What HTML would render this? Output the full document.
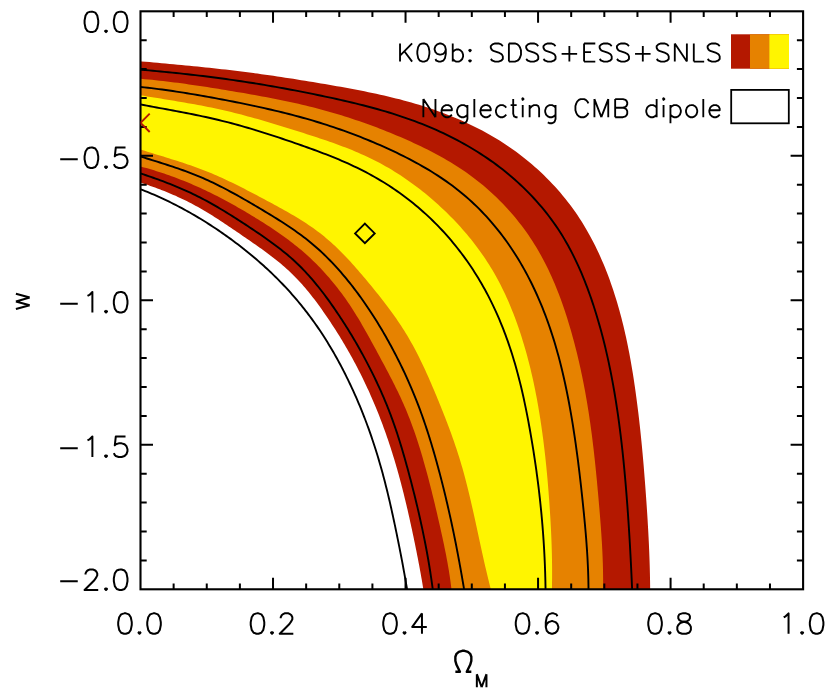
<!DOCTYPE html>
<html><head><meta charset="utf-8"><title>w vs Omega_M</title>
<style>html,body{margin:0;padding:0;background:#fff;font-family:"Liberation Sans",sans-serif;}svg{display:block}</style></head><body>
<svg width="830" height="692" viewBox="0 0 830 692">
<rect width="830" height="692" fill="#fff"/>
<defs><clipPath id="pc"><rect x="140.50" y="11.30" width="662.60" height="578.00"/></clipPath></defs>
<g clip-path="url(#pc)">
<path d="M133.55 60.74 L137.55 61.08 L141.55 61.42 L145.56 61.77 L149.56 62.11 L153.56 62.46 L157.57 62.81 L161.57 63.17 L165.57 63.53 L169.57 63.89 L173.58 64.26 L177.58 64.63 L181.58 65.01 L185.58 65.39 L189.58 65.78 L193.58 66.17 L197.58 66.57 L201.58 66.98 L205.58 67.40 L209.58 67.82 L213.57 68.25 L217.56 68.69 L221.56 69.14 L225.55 69.60 L229.54 70.07 L233.53 70.55 L237.52 71.03 L241.50 71.53 L245.48 72.04 L249.47 72.55 L253.45 73.08 L257.43 73.62 L261.41 74.17 L265.38 74.72 L269.36 75.29 L273.33 75.86 L277.30 76.45 L281.28 77.04 L285.25 77.64 L289.22 78.25 L293.19 78.87 L297.15 79.49 L301.12 80.13 L305.09 80.77 L309.05 81.42 L313.02 82.07 L316.98 82.74 L320.94 83.41 L324.91 84.09 L328.87 84.77 L332.83 85.46 L336.79 86.16 L340.75 86.87 L344.71 87.59 L348.67 88.31 L352.62 89.05 L356.57 89.81 L360.52 90.57 L364.47 91.36 L368.41 92.16 L372.35 92.98 L376.28 93.82 L380.20 94.69 L384.12 95.57 L388.04 96.48 L391.94 97.42 L395.84 98.38 L399.73 99.37 L403.62 100.39 L407.49 101.45 L411.36 102.53 L415.22 103.65 L419.06 104.81 L422.90 106.00 L426.73 107.23 L430.54 108.49 L434.34 109.80 L438.13 111.15 L441.91 112.54 L445.66 113.96 L449.41 115.43 L453.13 116.95 L456.84 118.50 L460.53 120.10 L464.20 121.74 L467.85 123.42 L471.47 125.15 L475.07 126.92 L478.65 128.74 L482.21 130.60 L485.73 132.51 L489.24 134.46 L492.71 136.47 L496.15 138.52 L499.57 140.61 L502.95 142.76 L506.31 144.95 L509.63 147.20 L512.91 149.49 L516.17 151.84 L519.38 154.23 L522.57 156.67 L525.71 159.16 L528.82 161.70 L531.88 164.28 L534.91 166.92 L537.90 169.59 L540.84 172.31 L543.75 175.08 L546.61 177.89 L549.42 180.75 L552.20 183.65 L554.92 186.59 L557.60 189.57 L560.23 192.59 L562.81 195.65 L565.35 198.76 L567.83 201.90 L570.26 205.09 L572.64 208.31 L574.97 211.57 L577.24 214.86 L579.46 218.20 L581.63 221.57 L583.74 224.97 L585.80 228.41 L587.80 231.88 L589.76 235.38 L591.66 238.91 L593.52 242.47 L595.32 246.05 L597.08 249.67 L598.79 253.30 L600.45 256.97 L602.07 260.65 L603.64 264.36 L605.17 268.08 L606.65 271.83 L608.10 275.59 L609.50 279.37 L610.85 283.16 L612.17 286.97 L613.45 290.80 L614.69 294.63 L615.90 298.48 L617.06 302.33 L618.19 306.19 L619.29 310.06 L620.35 313.94 L621.38 317.82 L622.37 321.72 L623.33 325.62 L624.26 329.52 L625.16 333.43 L626.04 337.35 L626.88 341.27 L627.70 345.20 L628.49 349.14 L629.25 353.07 L629.99 357.02 L630.71 360.97 L631.40 364.92 L632.08 368.88 L632.73 372.84 L633.36 376.81 L633.97 380.77 L634.56 384.75 L635.14 388.72 L635.70 392.70 L636.24 396.68 L636.77 400.66 L637.29 404.65 L637.79 408.63 L638.28 412.62 L638.75 416.61 L639.21 420.61 L639.66 424.60 L640.10 428.60 L640.52 432.59 L640.94 436.59 L641.34 440.59 L641.74 444.59 L642.12 448.60 L642.49 452.60 L642.85 456.60 L643.21 460.61 L643.56 464.61 L643.89 468.62 L644.22 472.63 L644.54 476.63 L644.86 480.64 L645.17 484.65 L645.47 488.65 L645.76 492.66 L646.05 496.67 L646.34 500.67 L646.61 504.68 L646.88 508.69 L647.15 512.69 L647.40 516.70 L647.65 520.71 L647.88 524.72 L648.11 528.72 L648.33 532.73 L648.54 536.74 L648.74 540.75 L648.93 544.77 L649.10 548.78 L649.27 552.79 L649.42 556.81 L649.56 560.82 L649.69 564.84 L649.80 568.86 L649.90 572.88 L649.99 576.90 L650.06 580.93 L650.11 584.95 L650.15 588.98 L650.18 593.01 L650.19 597.04 L424.55 596.95 L424.18 594.50 L423.79 592.06 L423.40 589.61 L423.00 587.17 L422.60 584.74 L422.19 582.30 L421.77 579.87 L421.35 577.43 L420.92 575.01 L420.48 572.58 L420.04 570.15 L419.60 567.73 L419.15 565.31 L418.69 562.89 L418.23 560.47 L417.76 558.05 L417.29 555.63 L416.82 553.22 L416.34 550.80 L415.85 548.39 L415.36 545.98 L414.87 543.57 L414.37 541.16 L413.87 538.75 L413.36 536.34 L412.85 533.93 L412.34 531.52 L411.82 529.11 L411.30 526.70 L410.78 524.30 L410.25 521.89 L409.72 519.48 L409.18 517.08 L408.64 514.67 L408.09 512.27 L407.54 509.87 L406.98 507.47 L406.42 505.07 L405.85 502.67 L405.28 500.27 L404.69 497.88 L404.11 495.48 L403.51 493.09 L402.91 490.70 L402.30 488.31 L401.69 485.92 L401.07 483.54 L400.44 481.16 L399.80 478.78 L399.15 476.40 L398.50 474.03 L397.84 471.66 L397.17 469.29 L396.49 466.92 L395.80 464.56 L395.10 462.20 L394.39 459.84 L393.68 457.48 L392.95 455.13 L392.22 452.78 L391.48 450.44 L390.72 448.09 L389.96 445.75 L389.19 443.41 L388.41 441.08 L387.62 438.75 L386.81 436.42 L386.00 434.10 L385.18 431.77 L384.35 429.46 L383.50 427.14 L382.65 424.83 L381.79 422.52 L380.91 420.22 L380.02 417.92 L379.13 415.62 L378.22 413.33 L377.30 411.04 L376.37 408.75 L375.43 406.47 L374.48 404.19 L373.51 401.92 L372.54 399.65 L371.56 397.39 L370.56 395.13 L369.55 392.87 L368.54 390.62 L367.51 388.38 L366.47 386.14 L365.42 383.91 L364.36 381.68 L363.29 379.46 L362.21 377.25 L361.11 375.04 L360.01 372.83 L358.89 370.64 L357.77 368.45 L356.63 366.26 L355.48 364.09 L354.32 361.92 L353.15 359.75 L351.97 357.60 L350.78 355.44 L349.58 353.30 L348.37 351.16 L347.14 349.03 L345.91 346.90 L344.66 344.78 L343.41 342.67 L342.14 340.56 L340.87 338.46 L339.58 336.36 L338.28 334.27 L336.97 332.19 L335.65 330.11 L334.32 328.03 L332.98 325.96 L331.63 323.90 L330.27 321.84 L328.90 319.79 L327.52 317.74 L326.13 315.70 L324.72 313.66 L323.31 311.63 L321.88 309.60 L320.44 307.59 L318.99 305.58 L317.53 303.58 L316.05 301.60 L314.56 299.62 L313.05 297.66 L311.52 295.71 L309.99 293.77 L308.43 291.85 L306.86 289.95 L305.27 288.06 L303.66 286.19 L302.03 284.33 L300.39 282.50 L298.73 280.69 L297.04 278.90 L295.34 277.13 L293.61 275.38 L291.86 273.65 L290.09 271.95 L288.30 270.28 L286.49 268.63 L284.66 267.00 L282.80 265.39 L280.93 263.81 L279.04 262.24 L277.14 260.69 L275.22 259.16 L273.28 257.65 L271.33 256.15 L269.37 254.66 L267.39 253.19 L265.41 251.73 L263.42 250.28 L261.41 248.84 L259.40 247.41 L257.39 245.99 L255.36 244.57 L253.33 243.16 L251.30 241.75 L249.27 240.35 L247.23 238.95 L245.19 237.55 L243.15 236.14 L241.12 234.74 L239.08 233.34 L237.04 231.95 L235.00 230.55 L232.96 229.16 L230.92 227.77 L228.87 226.38 L226.82 225.01 L224.77 223.63 L222.72 222.27 L220.66 220.92 L218.59 219.57 L216.52 218.24 L214.44 216.91 L212.36 215.60 L210.27 214.30 L208.18 213.02 L206.08 211.75 L203.96 210.49 L201.84 209.25 L199.71 208.03 L197.58 206.83 L195.43 205.64 L193.27 204.48 L191.10 203.34 L188.92 202.21 L186.73 201.11 L184.53 200.02 L182.32 198.96 L180.10 197.91 L177.87 196.88 L175.63 195.87 L173.38 194.88 L171.13 193.90 L168.86 192.95 L166.58 192.01 L164.29 191.09 L161.99 190.19 L159.69 189.30 L157.37 188.43 L155.05 187.58 L152.71 186.74 L150.37 185.93 L148.02 185.12 L145.66 184.33 L143.29 183.56 L140.91 182.81 L138.52 182.07 L136.12 181.34 L133.72 180.63 Z" fill="#b41800"/>
<path d="M133.40 78.23 L137.14 78.51 L140.87 78.82 L144.59 79.14 L148.31 79.49 L152.02 79.85 L155.73 80.24 L159.43 80.64 L163.12 81.05 L166.81 81.49 L170.50 81.93 L174.18 82.40 L177.86 82.87 L181.53 83.36 L185.20 83.87 L188.87 84.38 L192.54 84.91 L196.20 85.45 L199.86 85.99 L203.52 86.55 L207.18 87.12 L210.84 87.69 L214.50 88.27 L218.15 88.86 L221.81 89.45 L225.47 90.05 L229.12 90.66 L232.78 91.27 L236.44 91.88 L240.10 92.50 L243.76 93.12 L247.42 93.76 L251.08 94.40 L254.73 95.05 L258.39 95.71 L262.04 96.38 L265.69 97.06 L269.34 97.75 L272.99 98.46 L276.63 99.18 L280.28 99.91 L283.91 100.66 L287.55 101.43 L291.18 102.21 L294.80 103.01 L298.42 103.83 L302.04 104.67 L305.65 105.52 L309.25 106.40 L312.85 107.30 L316.44 108.22 L320.02 109.17 L323.60 110.14 L327.17 111.13 L330.74 112.14 L334.30 113.18 L337.85 114.24 L341.39 115.32 L344.93 116.43 L348.46 117.55 L351.98 118.70 L355.49 119.88 L359.00 121.07 L362.50 122.29 L366.00 123.52 L369.48 124.78 L372.96 126.07 L376.43 127.37 L379.90 128.70 L383.35 130.04 L386.80 131.41 L390.24 132.80 L393.67 134.21 L397.10 135.65 L400.51 137.10 L403.92 138.58 L407.32 140.08 L410.71 141.60 L414.08 143.14 L417.45 144.72 L420.80 146.32 L424.14 147.94 L427.46 149.60 L430.76 151.29 L434.05 153.00 L437.31 154.75 L440.56 156.53 L443.79 158.35 L446.99 160.20 L450.18 162.09 L453.34 164.02 L456.47 165.98 L459.58 167.99 L462.66 170.04 L465.71 172.12 L468.73 174.25 L471.73 176.43 L474.69 178.65 L477.62 180.91 L480.51 183.22 L483.38 185.58 L486.20 187.98 L489.00 190.43 L491.75 192.92 L494.47 195.45 L497.16 198.02 L499.80 200.63 L502.40 203.29 L504.97 205.98 L507.50 208.71 L509.98 211.48 L512.42 214.28 L514.82 217.12 L517.18 220.00 L519.49 222.90 L521.76 225.85 L523.98 228.82 L526.16 231.83 L528.29 234.86 L530.37 237.93 L532.40 241.03 L534.39 244.15 L536.32 247.30 L538.21 250.48 L540.05 253.68 L541.84 256.91 L543.58 260.16 L545.28 263.44 L546.93 266.74 L548.55 270.06 L550.12 273.40 L551.65 276.76 L553.14 280.14 L554.59 283.54 L556.00 286.96 L557.38 290.39 L558.72 293.84 L560.03 297.30 L561.31 300.78 L562.55 304.27 L563.76 307.77 L564.95 311.28 L566.10 314.81 L567.23 318.34 L568.33 321.88 L569.40 325.44 L570.45 328.99 L571.48 332.56 L572.48 336.13 L573.46 339.71 L574.41 343.30 L575.35 346.89 L576.26 350.48 L577.15 354.09 L578.01 357.69 L578.86 361.31 L579.69 364.92 L580.49 368.55 L581.27 372.17 L582.04 375.81 L582.78 379.44 L583.50 383.08 L584.21 386.73 L584.89 390.37 L585.56 394.02 L586.21 397.68 L586.84 401.34 L587.45 405.00 L588.05 408.66 L588.63 412.32 L589.19 415.99 L589.73 419.66 L590.26 423.33 L590.77 427.00 L591.27 430.68 L591.76 434.35 L592.23 438.03 L592.69 441.71 L593.13 445.39 L593.57 449.07 L593.99 452.75 L594.40 456.44 L594.80 460.12 L595.19 463.81 L595.58 467.50 L595.95 471.19 L596.32 474.88 L596.67 478.57 L597.03 482.26 L597.37 485.95 L597.71 489.64 L598.04 493.33 L598.37 497.02 L598.70 500.72 L599.02 504.41 L599.34 508.10 L599.65 511.80 L599.95 515.49 L600.25 519.18 L600.54 522.88 L600.82 526.57 L601.08 530.27 L601.34 533.97 L601.58 537.67 L601.81 541.37 L602.03 545.07 L602.22 548.77 L602.41 552.47 L602.57 556.17 L602.71 559.88 L602.84 563.59 L602.94 567.30 L603.02 571.01 L603.08 574.72 L603.12 578.44 L603.13 582.15 L603.11 585.87 L603.07 589.60 L603.00 593.32 L602.90 597.05 L452.24 597.08 L451.99 594.43 L451.72 591.79 L451.43 589.16 L451.12 586.53 L450.79 583.90 L450.45 581.28 L450.08 578.67 L449.70 576.06 L449.30 573.46 L448.88 570.86 L448.46 568.26 L448.01 565.67 L447.55 563.09 L447.08 560.50 L446.60 557.92 L446.11 555.34 L445.61 552.77 L445.09 550.20 L444.57 547.63 L444.04 545.06 L443.50 542.49 L442.95 539.93 L442.39 537.37 L441.83 534.80 L441.27 532.24 L440.70 529.68 L440.13 527.12 L439.55 524.56 L438.97 522.00 L438.39 519.44 L437.80 516.89 L437.21 514.33 L436.62 511.77 L436.02 509.21 L435.41 506.66 L434.80 504.10 L434.19 501.55 L433.57 498.99 L432.95 496.44 L432.32 493.89 L431.68 491.34 L431.04 488.79 L430.39 486.25 L429.74 483.70 L429.08 481.16 L428.41 478.62 L427.74 476.08 L427.06 473.54 L426.37 471.01 L425.68 468.48 L424.97 465.94 L424.26 463.42 L423.55 460.89 L422.82 458.37 L422.08 455.85 L421.33 453.33 L420.58 450.82 L419.81 448.31 L419.03 445.80 L418.24 443.30 L417.43 440.81 L416.62 438.32 L415.79 435.83 L414.94 433.35 L414.08 430.87 L413.21 428.40 L412.32 425.93 L411.41 423.47 L410.49 421.02 L409.55 418.57 L408.59 416.13 L407.62 413.70 L406.63 411.27 L405.61 408.86 L404.58 406.44 L403.53 404.04 L402.46 401.64 L401.37 399.25 L400.27 396.87 L399.15 394.49 L398.02 392.12 L396.87 389.75 L395.71 387.39 L394.54 385.04 L393.36 382.69 L392.17 380.34 L390.96 378.00 L389.75 375.66 L388.53 373.32 L387.31 370.99 L386.08 368.66 L384.84 366.34 L383.60 364.01 L382.35 361.69 L381.11 359.38 L379.86 357.06 L378.61 354.74 L377.36 352.43 L376.11 350.11 L374.85 347.80 L373.60 345.49 L372.35 343.19 L371.09 340.88 L369.82 338.58 L368.55 336.29 L367.28 334.00 L366.00 331.71 L364.71 329.43 L363.41 327.15 L362.09 324.89 L360.77 322.62 L359.44 320.37 L358.09 318.12 L356.73 315.89 L355.36 313.66 L353.97 311.44 L352.56 309.23 L351.13 307.03 L349.69 304.85 L348.22 302.67 L346.74 300.51 L345.23 298.36 L343.71 296.22 L342.16 294.09 L340.59 291.98 L338.99 289.88 L337.38 287.80 L335.75 285.73 L334.09 283.68 L332.42 281.65 L330.73 279.63 L329.01 277.62 L327.28 275.64 L325.52 273.67 L323.75 271.72 L321.95 269.79 L320.14 267.87 L318.31 265.98 L316.46 264.10 L314.59 262.25 L312.70 260.42 L310.80 258.61 L308.87 256.81 L306.93 255.05 L304.97 253.30 L303.00 251.58 L301.00 249.87 L298.99 248.19 L296.96 246.53 L294.92 244.89 L292.86 243.27 L290.79 241.67 L288.71 240.09 L286.61 238.53 L284.49 236.98 L282.37 235.45 L280.23 233.93 L278.08 232.43 L275.92 230.95 L273.75 229.47 L271.57 228.02 L269.38 226.57 L267.18 225.14 L264.97 223.72 L262.75 222.30 L260.52 220.90 L258.29 219.51 L256.05 218.13 L253.81 216.76 L251.56 215.39 L249.30 214.03 L247.04 212.69 L244.77 211.35 L242.50 210.02 L240.22 208.70 L237.93 207.39 L235.64 206.09 L233.34 204.80 L231.04 203.52 L228.73 202.26 L226.42 201.01 L224.10 199.76 L221.77 198.54 L219.44 197.32 L217.10 196.12 L214.76 194.93 L212.41 193.75 L210.05 192.59 L207.69 191.45 L205.32 190.32 L202.95 189.20 L200.57 188.10 L198.19 187.02 L195.80 185.95 L193.40 184.90 L191.00 183.87 L188.59 182.85 L186.17 181.85 L183.75 180.86 L181.32 179.90 L178.89 178.94 L176.44 178.01 L173.99 177.09 L171.53 176.19 L169.06 175.30 L166.59 174.44 L164.11 173.59 L161.61 172.75 L159.11 171.93 L156.60 171.13 L154.08 170.35 L151.56 169.59 L149.02 168.84 L146.47 168.11 L143.91 167.39 L141.35 166.70 L138.77 166.02 L136.18 165.36 L133.58 164.71 Z" fill="#e68200"/>
<path d="M133.60 94.15 L136.99 94.72 L140.39 95.29 L143.78 95.85 L147.18 96.40 L150.57 96.95 L153.97 97.50 L157.36 98.05 L160.75 98.60 L164.14 99.15 L167.53 99.71 L170.91 100.26 L174.30 100.82 L177.68 101.39 L181.06 101.97 L184.44 102.55 L187.81 103.14 L191.18 103.74 L194.55 104.35 L197.91 104.97 L201.28 105.61 L204.63 106.26 L207.99 106.93 L211.33 107.61 L214.68 108.31 L218.02 109.03 L221.35 109.77 L224.68 110.53 L228.01 111.31 L231.33 112.11 L234.64 112.93 L237.95 113.77 L241.26 114.62 L244.56 115.49 L247.86 116.38 L251.16 117.28 L254.45 118.19 L257.74 119.12 L261.03 120.06 L264.31 121.02 L267.60 121.98 L270.88 122.95 L274.15 123.94 L277.43 124.93 L280.70 125.93 L283.97 126.94 L287.25 127.96 L290.52 128.98 L293.78 130.01 L297.05 131.04 L300.32 132.07 L303.59 133.11 L306.86 134.15 L310.12 135.20 L313.38 136.26 L316.64 137.32 L319.90 138.40 L323.14 139.49 L326.39 140.59 L329.62 141.71 L332.85 142.85 L336.08 144.00 L339.29 145.18 L342.49 146.38 L345.68 147.60 L348.86 148.85 L352.03 150.12 L355.18 151.43 L358.33 152.76 L361.45 154.13 L364.56 155.53 L367.66 156.97 L370.74 158.44 L373.80 159.95 L376.84 161.50 L379.86 163.10 L382.86 164.73 L385.85 166.40 L388.81 168.12 L391.75 169.87 L394.67 171.66 L397.57 173.48 L400.45 175.34 L403.31 177.24 L406.15 179.17 L408.96 181.14 L411.75 183.14 L414.52 185.17 L417.26 187.24 L419.99 189.33 L422.69 191.46 L425.36 193.62 L428.01 195.80 L430.64 198.02 L433.24 200.26 L435.81 202.53 L438.37 204.82 L440.89 207.14 L443.39 209.49 L445.86 211.86 L448.31 214.26 L450.73 216.68 L453.12 219.12 L455.49 221.59 L457.82 224.08 L460.12 226.60 L462.40 229.15 L464.64 231.72 L466.86 234.31 L469.04 236.93 L471.19 239.57 L473.30 242.24 L475.39 244.94 L477.44 247.66 L479.45 250.40 L481.43 253.17 L483.38 255.97 L485.29 258.79 L487.16 261.64 L489.00 264.51 L490.80 267.41 L492.56 270.34 L494.28 273.29 L495.96 276.26 L497.61 279.26 L499.22 282.29 L500.79 285.33 L502.32 288.40 L503.82 291.49 L505.29 294.60 L506.72 297.72 L508.11 300.87 L509.48 304.03 L510.80 307.21 L512.10 310.40 L513.37 313.60 L514.60 316.82 L515.81 320.05 L516.98 323.29 L518.13 326.54 L519.24 329.80 L520.33 333.07 L521.39 336.34 L522.42 339.63 L523.43 342.91 L524.41 346.20 L525.37 349.50 L526.30 352.80 L527.20 356.10 L528.08 359.40 L528.94 362.71 L529.78 366.02 L530.59 369.33 L531.38 372.65 L532.15 375.97 L532.89 379.30 L533.62 382.62 L534.33 385.96 L535.01 389.29 L535.68 392.63 L536.33 395.98 L536.96 399.32 L537.57 402.68 L538.16 406.03 L538.74 409.39 L539.30 412.76 L539.85 416.13 L540.38 419.50 L540.89 422.88 L541.39 426.26 L541.87 429.65 L542.35 433.04 L542.80 436.43 L543.25 439.83 L543.68 443.23 L544.10 446.64 L544.50 450.04 L544.90 453.45 L545.28 456.87 L545.65 460.28 L546.00 463.70 L546.35 467.11 L546.68 470.53 L547.01 473.95 L547.32 477.37 L547.63 480.79 L547.92 484.21 L548.20 487.63 L548.48 491.05 L548.74 494.47 L549.00 497.89 L549.25 501.30 L549.49 504.71 L549.72 508.13 L549.94 511.53 L550.16 514.94 L550.36 518.35 L550.56 521.75 L550.74 525.16 L550.92 528.56 L551.09 531.96 L551.24 535.37 L551.39 538.77 L551.52 542.18 L551.64 545.59 L551.74 549.00 L551.84 552.41 L551.92 555.83 L551.99 559.25 L552.04 562.67 L552.08 566.10 L552.10 569.53 L552.11 572.97 L552.10 576.41 L552.07 579.86 L552.03 583.31 L551.97 586.77 L551.89 590.24 L551.80 593.71 L551.69 597.19 L492.78 596.80 L492.04 594.06 L491.32 591.32 L490.61 588.58 L489.91 585.84 L489.23 583.09 L488.55 580.35 L487.88 577.61 L487.22 574.86 L486.57 572.12 L485.93 569.37 L485.30 566.63 L484.67 563.88 L484.05 561.14 L483.44 558.39 L482.83 555.64 L482.22 552.90 L481.62 550.15 L481.02 547.40 L480.43 544.65 L479.83 541.90 L479.24 539.15 L478.65 536.40 L478.06 533.65 L477.46 530.90 L476.87 528.15 L476.27 525.40 L475.68 522.65 L475.07 519.90 L474.47 517.14 L473.86 514.39 L473.25 511.64 L472.63 508.89 L472.00 506.14 L471.37 503.39 L470.74 500.64 L470.09 497.89 L469.44 495.15 L468.77 492.41 L468.10 489.67 L467.42 486.93 L466.73 484.20 L466.02 481.47 L465.31 478.74 L464.58 476.02 L463.84 473.30 L463.09 470.58 L462.32 467.87 L461.54 465.17 L460.75 462.47 L459.93 459.77 L459.11 457.08 L458.26 454.40 L457.40 451.72 L456.53 449.05 L455.64 446.38 L454.73 443.71 L453.82 441.05 L452.89 438.40 L451.94 435.75 L450.99 433.10 L450.02 430.46 L449.04 427.82 L448.05 425.18 L447.05 422.55 L446.04 419.92 L445.02 417.29 L443.99 414.66 L442.95 412.04 L441.90 409.42 L440.85 406.80 L439.79 404.18 L438.72 401.56 L437.65 398.95 L436.56 396.33 L435.48 393.72 L434.38 391.11 L433.28 388.50 L432.18 385.89 L431.06 383.29 L429.93 380.69 L428.79 378.10 L427.65 375.51 L426.48 372.93 L425.31 370.35 L424.12 367.78 L422.92 365.22 L421.71 362.67 L420.47 360.13 L419.22 357.60 L417.96 355.07 L416.67 352.56 L415.37 350.06 L414.04 347.58 L412.70 345.10 L411.33 342.64 L409.94 340.20 L408.53 337.77 L407.09 335.35 L405.63 332.95 L404.15 330.57 L402.64 328.20 L401.11 325.85 L399.56 323.51 L397.99 321.18 L396.40 318.87 L394.79 316.56 L393.17 314.27 L391.52 312.00 L389.86 309.73 L388.19 307.47 L386.50 305.22 L384.79 302.99 L383.08 300.76 L381.35 298.54 L379.61 296.33 L377.85 294.12 L376.09 291.92 L374.32 289.73 L372.54 287.55 L370.76 285.37 L368.96 283.19 L367.16 281.02 L365.36 278.85 L363.54 276.70 L361.72 274.54 L359.89 272.40 L358.05 270.27 L356.20 268.14 L354.34 266.03 L352.46 263.93 L350.57 261.85 L348.67 259.78 L346.75 257.73 L344.81 255.70 L342.86 253.69 L340.88 251.69 L338.89 249.72 L336.88 247.77 L334.85 245.84 L332.79 243.94 L330.71 242.06 L328.61 240.21 L326.48 238.39 L324.33 236.60 L322.14 234.84 L319.94 233.11 L317.70 231.41 L315.44 229.75 L313.16 228.10 L310.85 226.49 L308.52 224.90 L306.17 223.34 L303.80 221.80 L301.41 220.28 L299.01 218.78 L296.60 217.31 L294.16 215.85 L291.72 214.41 L289.27 212.98 L286.80 211.57 L284.33 210.17 L281.85 208.79 L279.36 207.42 L276.87 206.05 L274.37 204.70 L271.88 203.35 L269.38 202.01 L266.88 200.67 L264.38 199.34 L261.89 198.01 L259.40 196.69 L256.91 195.37 L254.42 194.05 L251.93 192.75 L249.44 191.45 L246.94 190.15 L244.45 188.87 L241.95 187.59 L239.45 186.33 L236.94 185.08 L234.43 183.84 L231.92 182.61 L229.39 181.40 L226.86 180.20 L224.33 179.01 L221.78 177.85 L219.23 176.70 L216.67 175.56 L214.09 174.45 L211.51 173.35 L208.91 172.28 L206.30 171.22 L203.68 170.19 L201.05 169.18 L198.40 168.19 L195.75 167.22 L193.08 166.27 L190.41 165.33 L187.73 164.41 L185.04 163.51 L182.35 162.61 L179.65 161.73 L176.96 160.86 L174.25 160.00 L171.55 159.15 L168.85 158.30 L166.15 157.46 L163.46 156.62 L160.76 155.79 L158.07 154.96 L155.39 154.13 L152.71 153.30 L150.04 152.46 L147.38 151.63 L144.73 150.79 L142.09 149.95 L139.47 149.09 L136.85 148.24 L134.25 147.37 Z" fill="#fff500"/>
<path d="M133.45 69.06 L137.34 69.39 L141.23 69.72 L145.11 70.06 L148.98 70.40 L152.86 70.76 L156.73 71.12 L160.60 71.48 L164.46 71.86 L168.32 72.24 L172.18 72.63 L176.04 73.03 L179.89 73.43 L183.74 73.85 L187.59 74.27 L191.44 74.71 L195.28 75.15 L199.13 75.60 L202.97 76.06 L206.81 76.53 L210.65 77.02 L214.48 77.51 L218.32 78.01 L222.15 78.53 L225.99 79.05 L229.82 79.59 L233.65 80.13 L237.48 80.69 L241.31 81.27 L245.14 81.85 L248.97 82.44 L252.79 83.05 L256.62 83.66 L260.44 84.29 L264.27 84.93 L268.09 85.58 L271.91 86.24 L275.73 86.91 L279.55 87.59 L283.36 88.29 L287.18 88.99 L290.99 89.70 L294.80 90.42 L298.61 91.16 L302.42 91.90 L306.22 92.65 L310.03 93.41 L313.83 94.19 L317.63 94.97 L321.42 95.76 L325.22 96.56 L329.01 97.37 L332.80 98.19 L336.59 99.02 L340.37 99.86 L344.15 100.72 L347.92 101.60 L351.69 102.48 L355.45 103.39 L359.21 104.32 L362.97 105.26 L366.71 106.23 L370.45 107.22 L374.19 108.23 L377.92 109.26 L381.63 110.32 L385.35 111.41 L389.05 112.52 L392.74 113.67 L396.43 114.84 L400.10 116.04 L403.77 117.28 L407.43 118.55 L411.07 119.85 L414.71 121.19 L418.33 122.56 L421.94 123.97 L425.54 125.42 L429.13 126.91 L432.70 128.43 L436.25 129.99 L439.79 131.59 L443.31 133.23 L446.81 134.91 L450.29 136.62 L453.76 138.38 L457.20 140.17 L460.62 142.01 L464.02 143.88 L467.40 145.79 L470.75 147.75 L474.08 149.75 L477.38 151.78 L480.65 153.86 L483.90 155.98 L487.12 158.15 L490.31 160.35 L493.47 162.60 L496.60 164.89 L499.70 167.23 L502.77 169.61 L505.80 172.03 L508.79 174.49 L511.76 176.99 L514.68 179.54 L517.57 182.12 L520.42 184.75 L523.23 187.42 L526.00 190.13 L528.73 192.87 L531.42 195.66 L534.06 198.49 L536.66 201.35 L539.22 204.26 L541.73 207.20 L544.19 210.18 L546.60 213.19 L548.97 216.25 L551.29 219.34 L553.55 222.47 L555.77 225.63 L557.93 228.83 L560.04 232.06 L562.09 235.33 L564.10 238.63 L566.05 241.97 L567.95 245.33 L569.81 248.73 L571.61 252.15 L573.37 255.60 L575.08 259.08 L576.75 262.58 L578.38 266.11 L579.96 269.65 L581.50 273.22 L583.00 276.80 L584.46 280.41 L585.88 284.03 L587.27 287.67 L588.62 291.32 L589.93 294.98 L591.22 298.66 L592.46 302.35 L593.68 306.04 L594.86 309.75 L596.02 313.46 L597.15 317.18 L598.25 320.90 L599.32 324.63 L600.36 328.36 L601.38 332.10 L602.37 335.84 L603.34 339.58 L604.28 343.34 L605.20 347.09 L606.09 350.85 L606.96 354.62 L607.81 358.39 L608.63 362.17 L609.43 365.95 L610.21 369.73 L610.97 373.52 L611.71 377.31 L612.42 381.11 L613.12 384.91 L613.80 388.72 L614.46 392.53 L615.10 396.34 L615.72 400.16 L616.32 403.98 L616.91 407.81 L617.48 411.64 L618.04 415.48 L618.58 419.31 L619.10 423.16 L619.61 427.00 L620.10 430.85 L620.58 434.70 L621.05 438.55 L621.50 442.40 L621.94 446.26 L622.37 450.12 L622.78 453.97 L623.19 457.84 L623.58 461.70 L623.96 465.56 L624.33 469.42 L624.69 473.29 L625.04 477.15 L625.38 481.02 L625.71 484.88 L626.03 488.74 L626.35 492.61 L626.66 496.47 L626.95 500.33 L627.25 504.19 L627.53 508.05 L627.81 511.91 L628.08 515.77 L628.34 519.63 L628.60 523.49 L628.85 527.35 L629.10 531.21 L629.34 535.07 L629.57 538.93 L629.80 542.80 L630.02 546.66 L630.23 550.53 L630.44 554.39 L630.65 558.26 L630.85 562.13 L631.04 566.00 L631.23 569.88 L631.42 573.75 L631.60 577.63 L631.77 581.51 L631.95 585.40 L632.11 589.29 L632.28 593.18 L632.44 597.07" fill="none" stroke="#000" stroke-width="1.9" stroke-linejoin="round"/>
<path d="M133.34 86.20 L136.97 86.56 L140.59 86.94 L144.20 87.33 L147.81 87.74 L151.40 88.17 L154.99 88.61 L158.57 89.07 L162.14 89.54 L165.71 90.03 L169.26 90.53 L172.82 91.05 L176.36 91.58 L179.90 92.12 L183.44 92.67 L186.97 93.24 L190.50 93.82 L194.03 94.41 L197.55 95.01 L201.07 95.62 L204.59 96.24 L208.11 96.87 L211.62 97.52 L215.14 98.16 L218.65 98.82 L222.17 99.49 L225.68 100.16 L229.20 100.84 L232.72 101.53 L236.24 102.23 L239.75 102.94 L243.27 103.65 L246.79 104.38 L250.31 105.11 L253.82 105.86 L257.34 106.62 L260.85 107.38 L264.36 108.17 L267.86 108.96 L271.37 109.77 L274.87 110.59 L278.36 111.43 L281.85 112.28 L285.34 113.15 L288.82 114.03 L292.30 114.93 L295.77 115.85 L299.24 116.78 L302.70 117.73 L306.15 118.70 L309.60 119.69 L313.04 120.70 L316.47 121.73 L319.89 122.78 L323.31 123.85 L326.72 124.94 L330.12 126.05 L333.51 127.18 L336.90 128.33 L340.28 129.50 L343.65 130.69 L347.02 131.91 L350.37 133.14 L353.72 134.40 L357.06 135.67 L360.40 136.97 L363.72 138.29 L367.04 139.64 L370.36 141.00 L373.66 142.39 L376.96 143.79 L380.24 145.23 L383.52 146.68 L386.80 148.16 L390.06 149.65 L393.32 151.18 L396.57 152.72 L399.81 154.29 L403.03 155.89 L406.25 157.51 L409.45 159.16 L412.63 160.84 L415.80 162.55 L418.95 164.28 L422.09 166.05 L425.20 167.85 L428.30 169.68 L431.37 171.54 L434.42 173.44 L437.44 175.37 L440.44 177.33 L443.41 179.34 L446.36 181.38 L449.27 183.45 L452.16 185.57 L455.01 187.72 L457.84 189.92 L460.63 192.15 L463.38 194.43 L466.10 196.75 L468.79 199.11 L471.43 201.51 L474.05 203.95 L476.63 206.43 L479.17 208.95 L481.67 211.51 L484.14 214.10 L486.58 216.72 L488.97 219.38 L491.34 222.08 L493.66 224.80 L495.95 227.56 L498.20 230.35 L500.41 233.17 L502.59 236.02 L504.73 238.90 L506.83 241.81 L508.90 244.74 L510.93 247.70 L512.92 250.69 L514.87 253.70 L516.79 256.73 L518.66 259.79 L520.50 262.87 L522.31 265.97 L524.07 269.10 L525.80 272.24 L527.49 275.40 L529.15 278.58 L530.77 281.78 L532.36 285.00 L533.91 288.24 L535.43 291.49 L536.92 294.76 L538.37 298.04 L539.79 301.34 L541.17 304.65 L542.53 307.98 L543.85 311.32 L545.14 314.67 L546.40 318.03 L547.63 321.40 L548.83 324.79 L550.00 328.18 L551.14 331.58 L552.25 334.99 L553.33 338.41 L554.39 341.84 L555.42 345.27 L556.42 348.71 L557.39 352.15 L558.34 355.61 L559.27 359.07 L560.17 362.53 L561.04 366.00 L561.90 369.48 L562.73 372.96 L563.54 376.45 L564.33 379.94 L565.10 383.44 L565.85 386.94 L566.58 390.45 L567.29 393.96 L567.98 397.48 L568.66 401.00 L569.32 404.52 L569.96 408.05 L570.59 411.58 L571.20 415.11 L571.80 418.64 L572.38 422.18 L572.96 425.72 L573.51 429.27 L574.06 432.81 L574.60 436.36 L575.12 439.91 L575.63 443.46 L576.13 447.01 L576.62 450.57 L577.10 454.12 L577.57 457.68 L578.03 461.24 L578.48 464.80 L578.92 468.36 L579.35 471.92 L579.78 475.49 L580.20 479.05 L580.61 482.62 L581.01 486.18 L581.40 489.74 L581.79 493.31 L582.18 496.87 L582.55 500.44 L582.93 504.00 L583.29 507.57 L583.65 511.13 L584.01 514.70 L584.35 518.26 L584.69 521.83 L585.02 525.39 L585.34 528.96 L585.65 532.52 L585.95 536.09 L586.23 539.66 L586.50 543.23 L586.76 546.81 L587.01 550.38 L587.23 553.96 L587.45 557.53 L587.64 561.11 L587.82 564.70 L587.98 568.28 L588.12 571.87 L588.24 575.46 L588.34 579.06 L588.41 582.66 L588.47 586.26 L588.50 589.86 L588.51 593.47 L588.49 597.09" fill="none" stroke="#000" stroke-width="1.9" stroke-linejoin="round"/>
<path d="M133.80 103.17 L137.04 103.80 L140.29 104.42 L143.54 105.03 L146.80 105.64 L150.06 106.25 L153.33 106.86 L156.60 107.46 L159.88 108.06 L163.15 108.67 L166.43 109.27 L169.71 109.88 L172.99 110.49 L176.27 111.11 L179.55 111.73 L182.83 112.36 L186.11 113.00 L189.39 113.64 L192.66 114.30 L195.93 114.96 L199.20 115.64 L202.46 116.33 L205.72 117.04 L208.98 117.76 L212.23 118.49 L215.47 119.24 L218.70 120.01 L221.93 120.80 L225.16 121.61 L228.37 122.44 L231.58 123.28 L234.78 124.14 L237.98 125.02 L241.17 125.91 L244.36 126.82 L247.54 127.75 L250.72 128.68 L253.89 129.64 L257.06 130.60 L260.23 131.58 L263.39 132.57 L266.55 133.58 L269.71 134.59 L272.87 135.62 L276.02 136.65 L279.17 137.70 L282.33 138.76 L285.48 139.82 L288.63 140.89 L291.78 141.97 L294.93 143.06 L298.08 144.15 L301.23 145.25 L304.38 146.37 L307.52 147.49 L310.67 148.62 L313.81 149.76 L316.95 150.92 L320.08 152.09 L323.20 153.28 L326.32 154.48 L329.43 155.71 L332.53 156.95 L335.62 158.21 L338.71 159.49 L341.78 160.80 L344.84 162.13 L347.89 163.48 L350.92 164.86 L353.94 166.27 L356.94 167.70 L359.93 169.17 L362.90 170.66 L365.86 172.19 L368.80 173.74 L371.71 175.33 L374.61 176.96 L377.49 178.62 L380.35 180.31 L383.19 182.03 L386.00 183.79 L388.80 185.57 L391.58 187.39 L394.33 189.25 L397.06 191.13 L399.77 193.05 L402.46 194.99 L405.12 196.97 L407.76 198.98 L410.38 201.02 L412.97 203.09 L415.54 205.19 L418.09 207.33 L420.61 209.49 L423.10 211.68 L425.57 213.90 L428.02 216.15 L430.43 218.43 L432.83 220.74 L435.19 223.08 L437.53 225.45 L439.84 227.85 L442.12 230.27 L444.37 232.72 L446.60 235.20 L448.80 237.70 L450.97 240.23 L453.11 242.78 L455.22 245.36 L457.31 247.97 L459.36 250.59 L461.38 253.24 L463.38 255.91 L465.34 258.61 L467.27 261.32 L469.18 264.06 L471.05 266.82 L472.89 269.60 L474.70 272.40 L476.47 275.21 L478.22 278.05 L479.93 280.90 L481.61 283.78 L483.26 286.67 L484.88 289.57 L486.46 292.50 L488.01 295.43 L489.54 298.39 L491.03 301.36 L492.49 304.35 L493.92 307.35 L495.32 310.36 L496.69 313.39 L498.03 316.43 L499.34 319.48 L500.63 322.55 L501.88 325.62 L503.11 328.71 L504.31 331.81 L505.48 334.93 L506.63 338.05 L507.75 341.18 L508.84 344.32 L509.90 347.47 L510.94 350.63 L511.96 353.80 L512.95 356.97 L513.91 360.15 L514.85 363.34 L515.77 366.54 L516.66 369.74 L517.54 372.95 L518.39 376.17 L519.22 379.39 L520.03 382.62 L520.82 385.85 L521.59 389.09 L522.34 392.33 L523.08 395.58 L523.80 398.83 L524.50 402.08 L525.18 405.34 L525.86 408.61 L526.51 411.87 L527.16 415.14 L527.79 418.41 L528.41 421.69 L529.01 424.96 L529.61 428.24 L530.19 431.52 L530.77 434.80 L531.33 438.08 L531.88 441.36 L532.43 444.65 L532.96 447.93 L533.49 451.22 L534.00 454.51 L534.51 457.80 L535.00 461.09 L535.48 464.38 L535.95 467.67 L536.42 470.97 L536.87 474.26 L537.31 477.56 L537.74 480.86 L538.16 484.16 L538.57 487.46 L538.96 490.76 L539.35 494.06 L539.72 497.37 L540.09 500.67 L540.44 503.98 L540.78 507.29 L541.11 510.60 L541.43 513.91 L541.74 517.22 L542.03 520.53 L542.32 523.85 L542.59 527.16 L542.85 530.48 L543.10 533.79 L543.34 537.11 L543.57 540.43 L543.78 543.75 L543.99 547.07 L544.18 550.40 L544.36 553.72 L544.53 557.04 L544.68 560.37 L544.83 563.70 L544.96 567.02 L545.08 570.35 L545.19 573.68 L545.28 577.01 L545.37 580.34 L545.44 583.68 L545.50 587.01 L545.55 590.34 L545.58 593.68 L545.61 597.01" fill="none" stroke="#000" stroke-width="1.9" stroke-linejoin="round"/>
<path d="M134.03 154.54 L136.59 155.33 L139.16 156.11 L141.73 156.90 L144.30 157.69 L146.88 158.48 L149.46 159.27 L152.04 160.07 L154.63 160.87 L157.21 161.68 L159.80 162.49 L162.39 163.31 L164.97 164.14 L167.55 164.98 L170.13 165.83 L172.71 166.69 L175.28 167.56 L177.85 168.45 L180.42 169.35 L182.97 170.26 L185.53 171.19 L188.07 172.14 L190.61 173.10 L193.13 174.09 L195.65 175.09 L198.16 176.11 L200.66 177.16 L203.14 178.23 L205.62 179.32 L208.08 180.43 L210.54 181.57 L212.98 182.72 L215.41 183.89 L217.84 185.09 L220.25 186.30 L222.66 187.52 L225.06 188.77 L227.45 190.03 L229.83 191.30 L232.21 192.59 L234.58 193.89 L236.95 195.20 L239.31 196.52 L241.67 197.85 L244.02 199.20 L246.37 200.55 L248.71 201.91 L251.06 203.27 L253.40 204.65 L255.74 206.02 L258.07 207.40 L260.41 208.79 L262.74 210.18 L265.08 211.57 L267.40 212.98 L269.73 214.38 L272.05 215.80 L274.37 217.22 L276.67 218.66 L278.97 220.10 L281.27 221.56 L283.55 223.03 L285.82 224.51 L288.08 226.01 L290.33 227.52 L292.57 229.05 L294.80 230.59 L297.01 232.16 L299.20 233.74 L301.38 235.34 L303.54 236.97 L305.68 238.61 L307.81 240.28 L309.92 241.98 L312.00 243.70 L314.06 245.44 L316.11 247.21 L318.13 249.00 L320.13 250.82 L322.11 252.66 L324.07 254.52 L326.01 256.41 L327.93 258.32 L329.84 260.24 L331.72 262.19 L333.58 264.16 L335.43 266.15 L337.25 268.15 L339.06 270.17 L340.85 272.21 L342.62 274.27 L344.38 276.34 L346.11 278.43 L347.83 280.53 L349.53 282.64 L351.22 284.77 L352.89 286.91 L354.54 289.06 L356.18 291.23 L357.80 293.40 L359.40 295.59 L360.99 297.79 L362.56 299.99 L364.12 302.21 L365.66 304.44 L367.19 306.68 L368.71 308.92 L370.21 311.18 L371.69 313.45 L373.16 315.72 L374.61 318.01 L376.06 320.30 L377.48 322.60 L378.90 324.91 L380.30 327.23 L381.69 329.56 L383.06 331.89 L384.42 334.24 L385.77 336.59 L387.10 338.95 L388.42 341.31 L389.73 343.68 L391.03 346.06 L392.32 348.45 L393.59 350.84 L394.85 353.24 L396.10 355.65 L397.33 358.06 L398.55 360.48 L399.76 362.91 L400.96 365.34 L402.14 367.78 L403.31 370.23 L404.47 372.68 L405.61 375.14 L406.74 377.60 L407.85 380.08 L408.95 382.55 L410.04 385.03 L411.12 387.52 L412.18 390.02 L413.22 392.52 L414.25 395.02 L415.27 397.54 L416.27 400.05 L417.26 402.58 L418.24 405.10 L419.20 407.64 L420.14 410.18 L421.07 412.72 L421.99 415.27 L422.90 417.82 L423.79 420.38 L424.67 422.94 L425.54 425.51 L426.39 428.08 L427.24 430.65 L428.07 433.23 L428.89 435.81 L429.70 438.40 L430.50 440.99 L431.29 443.58 L432.07 446.18 L432.84 448.77 L433.61 451.37 L434.36 453.98 L435.10 456.58 L435.84 459.19 L436.57 461.80 L437.29 464.42 L438.00 467.03 L438.71 469.65 L439.41 472.26 L440.10 474.88 L440.78 477.51 L441.46 480.13 L442.13 482.75 L442.79 485.38 L443.45 488.01 L444.10 490.64 L444.74 493.27 L445.38 495.90 L446.01 498.54 L446.63 501.17 L447.25 503.81 L447.86 506.45 L448.46 509.09 L449.06 511.73 L449.65 514.38 L450.24 517.02 L450.82 519.67 L451.39 522.31 L451.96 524.96 L452.52 527.61 L453.08 530.26 L453.63 532.91 L454.18 535.57 L454.72 538.22 L455.25 540.88 L455.78 543.53 L456.30 546.19 L456.82 548.85 L457.33 551.51 L457.84 554.17 L458.35 556.83 L458.84 559.50 L459.34 562.16 L459.82 564.83 L460.31 567.49 L460.79 570.16 L461.26 572.83 L461.73 575.50 L462.19 578.17 L462.65 580.85 L463.11 583.52 L463.56 586.19 L464.01 588.87 L464.45 591.55 L464.89 594.22 L465.33 596.90" fill="none" stroke="#000" stroke-width="1.9" stroke-linejoin="round"/>
<path d="M133.92 171.25 L136.34 172.03 L138.76 172.82 L141.17 173.62 L143.58 174.43 L145.99 175.25 L148.40 176.07 L150.80 176.91 L153.20 177.75 L155.59 178.60 L157.98 179.47 L160.37 180.35 L162.75 181.23 L165.12 182.13 L167.49 183.05 L169.86 183.97 L172.21 184.91 L174.57 185.87 L176.91 186.84 L179.25 187.82 L181.57 188.82 L183.89 189.84 L186.21 190.87 L188.51 191.92 L190.80 192.98 L193.09 194.07 L195.36 195.17 L197.63 196.29 L199.89 197.43 L202.13 198.59 L204.37 199.77 L206.59 200.96 L208.81 202.18 L211.02 203.40 L213.22 204.64 L215.42 205.90 L217.60 207.17 L219.79 208.46 L221.96 209.75 L224.13 211.06 L226.29 212.38 L228.45 213.71 L230.60 215.05 L232.75 216.40 L234.89 217.76 L237.03 219.13 L239.16 220.51 L241.30 221.89 L243.43 223.28 L245.56 224.67 L247.68 226.07 L249.81 227.48 L251.93 228.89 L254.05 230.30 L256.17 231.72 L258.28 233.15 L260.38 234.59 L262.48 236.03 L264.58 237.49 L266.66 238.95 L268.74 240.43 L270.80 241.91 L272.86 243.41 L274.90 244.93 L276.93 246.46 L278.94 248.00 L280.94 249.56 L282.93 251.14 L284.90 252.74 L286.85 254.35 L288.78 255.99 L290.70 257.64 L292.59 259.32 L294.46 261.02 L296.31 262.74 L298.14 264.48 L299.95 266.25 L301.73 268.04 L303.49 269.85 L305.23 271.68 L306.96 273.54 L308.66 275.41 L310.34 277.30 L312.00 279.21 L313.65 281.13 L315.27 283.08 L316.88 285.03 L318.48 287.01 L320.05 289.00 L321.61 291.00 L323.16 293.01 L324.69 295.04 L326.21 297.07 L327.71 299.12 L329.20 301.18 L330.67 303.25 L332.14 305.33 L333.59 307.41 L335.03 309.50 L336.46 311.60 L337.88 313.70 L339.29 315.81 L340.69 317.93 L342.08 320.06 L343.46 322.19 L344.82 324.32 L346.18 326.47 L347.52 328.62 L348.86 330.77 L350.18 332.93 L351.49 335.10 L352.80 337.28 L354.09 339.46 L355.37 341.64 L356.64 343.84 L357.90 346.03 L359.16 348.24 L360.40 350.45 L361.63 352.67 L362.85 354.89 L364.06 357.12 L365.26 359.35 L366.45 361.59 L367.63 363.84 L368.79 366.09 L369.95 368.35 L371.10 370.61 L372.24 372.88 L373.36 375.15 L374.47 377.43 L375.58 379.72 L376.67 382.01 L377.74 384.31 L378.81 386.61 L379.86 388.92 L380.90 391.23 L381.93 393.55 L382.94 395.88 L383.94 398.21 L384.93 400.54 L385.90 402.88 L386.86 405.23 L387.81 407.58 L388.74 409.94 L389.65 412.31 L390.56 414.68 L391.44 417.05 L392.31 419.43 L393.17 421.81 L394.02 424.20 L394.85 426.60 L395.67 429.00 L396.47 431.40 L397.27 433.81 L398.05 436.22 L398.82 438.63 L399.58 441.05 L400.33 443.47 L401.07 445.90 L401.80 448.33 L402.52 450.76 L403.24 453.19 L403.94 455.63 L404.64 458.07 L405.33 460.51 L406.02 462.95 L406.69 465.40 L407.36 467.84 L408.03 470.29 L408.69 472.74 L409.35 475.19 L410.00 477.64 L410.65 480.09 L411.29 482.54 L411.92 485.00 L412.55 487.46 L413.18 489.91 L413.80 492.37 L414.41 494.83 L415.02 497.29 L415.62 499.75 L416.22 502.22 L416.81 504.68 L417.40 507.15 L417.98 509.61 L418.55 512.08 L419.12 514.55 L419.68 517.02 L420.23 519.49 L420.78 521.97 L421.32 524.44 L421.86 526.92 L422.39 529.40 L422.91 531.88 L423.42 534.36 L423.93 536.84 L424.43 539.32 L424.93 541.81 L425.41 544.29 L425.89 546.78 L426.36 549.27 L426.83 551.76 L427.28 554.26 L427.73 556.75 L428.17 559.25 L428.60 561.75 L429.02 564.25 L429.44 566.76 L429.84 569.26 L430.24 571.77 L430.63 574.28 L431.01 576.80 L431.38 579.31 L431.74 581.83 L432.09 584.35 L432.43 586.87 L432.76 589.40 L433.08 591.92 L433.39 594.46 L433.69 596.99" fill="none" stroke="#000" stroke-width="1.9" stroke-linejoin="round"/>
<path d="M133.88 186.73 L136.15 187.57 L138.42 188.42 L140.67 189.28 L142.92 190.16 L145.15 191.05 L147.38 191.95 L149.60 192.87 L151.80 193.80 L154.00 194.74 L156.19 195.70 L158.37 196.66 L160.55 197.65 L162.71 198.64 L164.87 199.65 L167.02 200.67 L169.16 201.71 L171.29 202.76 L173.42 203.82 L175.54 204.89 L177.65 205.98 L179.75 207.08 L181.85 208.20 L183.94 209.32 L186.02 210.46 L188.10 211.62 L190.17 212.78 L192.23 213.96 L194.29 215.15 L196.34 216.35 L198.38 217.57 L200.42 218.80 L202.45 220.04 L204.48 221.29 L206.49 222.56 L208.51 223.84 L210.51 225.13 L212.51 226.43 L214.50 227.74 L216.48 229.06 L218.46 230.40 L220.43 231.75 L222.39 233.10 L224.34 234.47 L226.29 235.85 L228.23 237.24 L230.16 238.64 L232.08 240.05 L233.99 241.47 L235.90 242.90 L237.80 244.34 L239.69 245.79 L241.57 247.25 L243.45 248.72 L245.31 250.20 L247.17 251.69 L249.02 253.19 L250.86 254.70 L252.69 256.23 L254.51 257.76 L256.32 259.30 L258.12 260.85 L259.91 262.42 L261.69 263.99 L263.46 265.58 L265.23 267.17 L266.98 268.78 L268.72 270.40 L270.45 272.03 L272.17 273.67 L273.88 275.32 L275.58 276.99 L277.27 278.66 L278.95 280.35 L280.61 282.05 L282.26 283.76 L283.91 285.48 L285.54 287.22 L287.16 288.97 L288.77 290.72 L290.36 292.49 L291.94 294.27 L293.52 296.07 L295.08 297.87 L296.62 299.68 L298.16 301.51 L299.68 303.34 L301.19 305.19 L302.68 307.04 L304.17 308.91 L305.64 310.79 L307.10 312.67 L308.54 314.57 L309.97 316.48 L311.39 318.39 L312.80 320.32 L314.19 322.25 L315.57 324.20 L316.93 326.15 L318.28 328.12 L319.62 330.09 L320.94 332.07 L322.25 334.06 L323.55 336.06 L324.83 338.06 L326.10 340.08 L327.36 342.10 L328.61 344.13 L329.84 346.17 L331.06 348.21 L332.27 350.26 L333.46 352.32 L334.65 354.39 L335.82 356.46 L336.98 358.54 L338.13 360.63 L339.26 362.72 L340.39 364.82 L341.50 366.93 L342.60 369.04 L343.69 371.16 L344.78 373.28 L345.84 375.41 L346.90 377.55 L347.95 379.69 L348.99 381.83 L350.02 383.98 L351.03 386.13 L352.04 388.29 L353.03 390.46 L354.02 392.63 L354.99 394.80 L355.95 396.98 L356.91 399.17 L357.85 401.35 L358.78 403.55 L359.70 405.74 L360.61 407.95 L361.51 410.15 L362.40 412.36 L363.28 414.58 L364.14 416.80 L365.00 419.02 L365.85 421.24 L366.69 423.47 L367.51 425.71 L368.33 427.95 L369.14 430.19 L369.93 432.43 L370.72 434.68 L371.49 436.93 L372.26 439.19 L373.02 441.45 L373.76 443.71 L374.50 445.97 L375.23 448.24 L375.95 450.51 L376.65 452.79 L377.35 455.06 L378.04 457.34 L378.73 459.62 L379.40 461.91 L380.06 464.20 L380.72 466.49 L381.36 468.78 L382.00 471.07 L382.63 473.37 L383.25 475.67 L383.86 477.97 L384.47 480.27 L385.06 482.58 L385.65 484.89 L386.23 487.19 L386.81 489.51 L387.37 491.82 L387.93 494.13 L388.49 496.45 L389.03 498.77 L389.57 501.08 L390.11 503.40 L390.64 505.73 L391.16 508.05 L391.68 510.37 L392.19 512.70 L392.70 515.02 L393.21 517.35 L393.71 519.68 L394.20 522.01 L394.70 524.34 L395.19 526.67 L395.67 529.00 L396.16 531.33 L396.64 533.66 L397.11 535.99 L397.59 538.33 L398.06 540.66 L398.53 542.99 L399.00 545.33 L399.46 547.66 L399.92 550.00 L400.38 552.34 L400.83 554.67 L401.28 557.01 L401.73 559.35 L402.17 561.69 L402.61 564.03 L403.04 566.37 L403.47 568.71 L403.90 571.06 L404.32 573.40 L404.74 575.75 L405.15 578.10 L405.56 580.44 L405.96 582.79 L406.36 585.14 L406.75 587.50 L407.14 589.85 L407.53 592.20 L407.90 594.56 L408.28 596.92" fill="none" stroke="#000" stroke-width="1.9" stroke-linejoin="round"/>
</g>
<path d="M364.9 223.6 L374.7 233.4 L364.9 243.2 L355.1 233.4 Z" stroke="#000" stroke-width="1.9" fill="none"/>
<rect x="140.50" y="11.30" width="662.60" height="578.00" fill="none" stroke="#000" stroke-width="2.1"/>
<path d="M173.63 589.30 v-5.80 M173.63 11.30 v5.80 M206.76 589.30 v-5.80 M206.76 11.30 v5.80 M239.89 589.30 v-5.80 M239.89 11.30 v5.80 M273.02 589.30 v-11.50 M273.02 11.30 v11.50 M306.15 589.30 v-5.80 M306.15 11.30 v5.80 M339.28 589.30 v-5.80 M339.28 11.30 v5.80 M372.41 589.30 v-5.80 M372.41 11.30 v5.80 M405.54 589.30 v-11.50 M405.54 11.30 v11.50 M438.67 589.30 v-5.80 M438.67 11.30 v5.80 M471.80 589.30 v-5.80 M471.80 11.30 v5.80 M504.93 589.30 v-5.80 M504.93 11.30 v5.80 M538.06 589.30 v-11.50 M538.06 11.30 v11.50 M571.19 589.30 v-5.80 M571.19 11.30 v5.80 M604.32 589.30 v-5.80 M604.32 11.30 v5.80 M637.45 589.30 v-5.80 M637.45 11.30 v5.80 M670.58 589.30 v-11.50 M670.58 11.30 v11.50 M703.71 589.30 v-5.80 M703.71 11.30 v5.80 M736.84 589.30 v-5.80 M736.84 11.30 v5.80 M769.97 589.30 v-5.80 M769.97 11.30 v5.80 M140.50 40.20 h6.20 M803.10 40.20 h-6.20 M140.50 69.10 h6.20 M803.10 69.10 h-6.20 M140.50 98.00 h6.20 M803.10 98.00 h-6.20 M140.50 126.90 h6.20 M803.10 126.90 h-6.20 M140.50 155.80 h12.50 M803.10 155.80 h-12.50 M140.50 184.70 h6.20 M803.10 184.70 h-6.20 M140.50 213.60 h6.20 M803.10 213.60 h-6.20 M140.50 242.50 h6.20 M803.10 242.50 h-6.20 M140.50 271.40 h6.20 M803.10 271.40 h-6.20 M140.50 300.30 h12.50 M803.10 300.30 h-12.50 M140.50 329.20 h6.20 M803.10 329.20 h-6.20 M140.50 358.10 h6.20 M803.10 358.10 h-6.20 M140.50 387.00 h6.20 M803.10 387.00 h-6.20 M140.50 415.90 h6.20 M803.10 415.90 h-6.20 M140.50 444.80 h12.50 M803.10 444.80 h-12.50 M140.50 473.70 h6.20 M803.10 473.70 h-6.20 M140.50 502.60 h6.20 M803.10 502.60 h-6.20 M140.50 531.50 h6.20 M803.10 531.50 h-6.20 M140.50 560.40 h6.20 M803.10 560.40 h-6.20" stroke="#000" stroke-width="2" fill="none"/>
<g clip-path="url(#pc)"><path d="M131.3 113.6 L149.7 132.0 M131.3 132.0 L149.7 113.6" stroke="#b41800" stroke-width="1.9" fill="none"/></g>
<path d="M124.01 613.37 L121.11 614.34 L119.17 617.24 L118.20 622.08 L118.20 624.99 L119.17 629.83 L121.11 632.73 L124.01 633.70 L125.95 633.70 L128.85 632.73 L130.79 629.83 L131.76 624.99 L131.76 622.08 L130.79 617.24 L128.85 614.34 L125.95 613.37 L124.01 613.37 M139.50 631.76 L138.53 632.73 L139.50 633.70 L140.47 632.73 L139.50 631.76 M153.05 613.37 L150.15 614.34 L148.21 617.24 L147.24 622.08 L147.24 624.99 L148.21 629.83 L150.15 632.73 L153.05 633.70 L154.99 633.70 L157.89 632.73 L159.83 629.83 L160.80 624.99 L160.80 622.08 L159.83 617.24 L157.89 614.34 L154.99 613.37 L153.05 613.37 M256.53 613.37 L253.63 614.34 L251.69 617.24 L250.72 622.08 L250.72 624.99 L251.69 629.83 L253.63 632.73 L256.53 633.70 L258.47 633.70 L261.37 632.73 L263.31 629.83 L264.28 624.99 L264.28 622.08 L263.31 617.24 L261.37 614.34 L258.47 613.37 L256.53 613.37 M272.02 631.76 L271.05 632.73 L272.02 633.70 L272.99 632.73 L272.02 631.76 M280.73 618.21 L280.73 617.24 L281.70 615.31 L282.67 614.34 L284.60 613.37 L288.48 613.37 L290.41 614.34 L291.38 615.31 L292.35 617.24 L292.35 619.18 L291.38 621.12 L289.44 624.02 L279.76 633.70 L293.32 633.70 M389.05 613.37 L386.15 614.34 L384.21 617.24 L383.24 622.08 L383.24 624.99 L384.21 629.83 L386.15 632.73 L389.05 633.70 L390.99 633.70 L393.89 632.73 L395.83 629.83 L396.80 624.99 L396.80 622.08 L395.83 617.24 L393.89 614.34 L390.99 613.37 L389.05 613.37 M404.54 631.76 L403.57 632.73 L404.54 633.70 L405.51 632.73 L404.54 631.76 M421.96 613.37 L412.28 626.92 L426.80 626.92 M421.96 613.37 L421.96 633.70 M521.57 613.37 L518.67 614.34 L516.73 617.24 L515.76 622.08 L515.76 624.99 L516.73 629.83 L518.67 632.73 L521.57 633.70 L523.51 633.70 L526.41 632.73 L528.35 629.83 L529.32 624.99 L529.32 622.08 L528.35 617.24 L526.41 614.34 L523.51 613.37 L521.57 613.37 M537.06 631.76 L536.09 632.73 L537.06 633.70 L538.03 632.73 L537.06 631.76 M557.39 616.28 L556.42 614.34 L553.52 613.37 L551.58 613.37 L548.68 614.34 L546.74 617.24 L545.77 622.08 L545.77 626.92 L546.74 630.80 L548.68 632.73 L551.58 633.70 L552.55 633.70 L555.45 632.73 L557.39 630.80 L558.36 627.89 L558.36 626.92 L557.39 624.02 L555.45 622.08 L552.55 621.12 L551.58 621.12 L548.68 622.08 L546.74 624.02 L545.77 626.92 M654.09 613.37 L651.19 614.34 L649.25 617.24 L648.28 622.08 L648.28 624.99 L649.25 629.83 L651.19 632.73 L654.09 633.70 L656.03 633.70 L658.93 632.73 L660.87 629.83 L661.84 624.99 L661.84 622.08 L660.87 617.24 L658.93 614.34 L656.03 613.37 L654.09 613.37 M669.58 631.76 L668.61 632.73 L669.58 633.70 L670.55 632.73 L669.58 631.76 M682.16 613.37 L679.26 614.34 L678.29 616.28 L678.29 618.21 L679.26 620.15 L681.20 621.12 L685.07 622.08 L687.97 623.05 L689.91 624.99 L690.88 626.92 L690.88 629.83 L689.91 631.76 L688.94 632.73 L686.04 633.70 L682.16 633.70 L679.26 632.73 L678.29 631.76 L677.32 629.83 L677.32 626.92 L678.29 624.99 L680.23 623.05 L683.13 622.08 L687.00 621.12 L688.94 620.15 L689.91 618.21 L689.91 616.28 L688.94 614.34 L686.04 613.37 L682.16 613.37 M783.71 617.24 L785.64 616.28 L788.55 613.37 L788.55 633.70 M802.10 631.76 L801.13 632.73 L802.10 633.70 L803.07 632.73 L802.10 631.76 M815.65 613.37 L812.75 614.34 L810.81 617.24 L809.84 622.08 L809.84 624.99 L810.81 629.83 L812.75 632.73 L815.65 633.70 L817.59 633.70 L820.49 632.73 L822.43 629.83 L823.40 624.99 L823.40 622.08 L822.43 617.24 L820.49 614.34 L817.59 613.37 L815.65 613.37 M90.43 11.63 L87.50 12.60 L85.55 15.53 L84.58 20.40 L84.58 23.33 L85.55 28.20 L87.50 31.12 L90.43 32.10 L92.38 32.10 L95.30 31.12 L97.25 28.20 L98.23 23.33 L98.23 20.40 L97.25 15.53 L95.30 12.60 L92.38 11.63 L90.43 11.63 M106.03 30.15 L105.05 31.12 L106.03 32.10 L107.00 31.12 L106.03 30.15 M119.68 11.63 L116.75 12.60 L114.80 15.53 L113.83 20.40 L113.83 23.33 L114.80 28.20 L116.75 31.12 L119.68 32.10 L121.62 32.10 L124.55 31.12 L126.50 28.20 L127.48 23.33 L127.48 20.40 L126.50 15.53 L124.55 12.60 L121.62 11.63 L119.68 11.63 M60.20 159.22 L77.75 159.22 M90.43 147.53 L87.50 148.50 L85.55 151.43 L84.58 156.30 L84.58 159.22 L85.55 164.10 L87.50 167.03 L90.43 168.00 L92.38 168.00 L95.30 167.03 L97.25 164.10 L98.23 159.22 L98.23 156.30 L97.25 151.43 L95.30 148.50 L92.38 147.53 L90.43 147.53 M106.03 166.05 L105.05 167.03 L106.03 168.00 L107.00 167.03 L106.03 166.05 M125.53 147.53 L115.78 147.53 L114.80 156.30 L115.78 155.32 L118.70 154.35 L121.62 154.35 L124.55 155.32 L126.50 157.28 L127.48 160.20 L127.48 162.15 L126.50 165.07 L124.55 167.03 L121.62 168.00 L118.70 168.00 L115.78 167.03 L114.80 166.05 L113.83 164.10 M60.20 303.73 L77.75 303.73 M87.50 295.93 L89.45 294.95 L92.38 292.02 L92.38 312.50 M106.03 310.55 L105.05 311.52 L106.03 312.50 L107.00 311.52 L106.03 310.55 M119.68 292.02 L116.75 293.00 L114.80 295.93 L113.83 300.80 L113.83 303.73 L114.80 308.60 L116.75 311.52 L119.68 312.50 L121.62 312.50 L124.55 311.52 L126.50 308.60 L127.48 303.73 L127.48 300.80 L126.50 295.93 L124.55 293.00 L121.62 292.02 L119.68 292.02 M60.20 448.23 L77.75 448.23 M87.50 440.43 L89.45 439.45 L92.38 436.52 L92.38 457.00 M106.03 455.05 L105.05 456.02 L106.03 457.00 L107.00 456.02 L106.03 455.05 M125.53 436.52 L115.78 436.52 L114.80 445.30 L115.78 444.32 L118.70 443.35 L121.62 443.35 L124.55 444.32 L126.50 446.27 L127.48 449.20 L127.48 451.15 L126.50 454.07 L124.55 456.02 L121.62 457.00 L118.70 457.00 L115.78 456.02 L114.80 455.05 L113.83 453.10 M60.20 581.23 L77.75 581.23 M85.55 574.40 L85.55 573.42 L86.53 571.48 L87.50 570.50 L89.45 569.52 L93.35 569.52 L95.30 570.50 L96.28 571.48 L97.25 573.42 L97.25 575.38 L96.28 577.33 L94.33 580.25 L84.58 590.00 L98.23 590.00 M106.03 588.05 L105.05 589.02 L106.03 590.00 L107.00 589.02 L106.03 588.05 M119.68 569.52 L116.75 570.50 L114.80 573.42 L113.83 578.30 L113.83 581.23 L114.80 586.10 L116.75 589.02 L119.68 590.00 L121.62 590.00 L124.55 589.02 L126.50 586.10 L127.48 581.23 L127.48 578.30 L126.50 573.42 L124.55 570.50 L121.62 569.52 L119.68 569.52" stroke="#000" stroke-width="2.00" fill="none" stroke-linejoin="round" stroke-linecap="butt"/>
<rect x="731" y="34.3" width="58" height="34.4" fill="#b41800"/><rect x="750" y="34.3" width="39" height="34.4" fill="#e68200"/><rect x="769.4" y="34.3" width="19.6" height="34.4" fill="#fff500"/>
<rect x="731.2" y="89.9" width="57.6" height="33.4" fill="#fff" stroke="#000" stroke-width="1.8"/>
<path d="M400.03 43.46 L400.03 61.60 M412.12 43.46 L400.03 55.55 M404.35 51.23 L412.12 61.60 M422.49 43.46 L419.90 44.32 L418.17 46.91 L417.31 51.23 L417.31 53.82 L418.17 58.14 L419.90 60.74 L422.49 61.60 L424.22 61.60 L426.81 60.74 L428.54 58.14 L429.40 53.82 L429.40 51.23 L428.54 46.91 L426.81 44.32 L424.22 43.46 L422.49 43.46 M445.82 49.50 L444.96 52.10 L443.23 53.82 L440.64 54.69 L439.77 54.69 L437.18 53.82 L435.45 52.10 L434.59 49.50 L434.59 48.64 L435.45 46.05 L437.18 44.32 L439.77 43.46 L440.64 43.46 L443.23 44.32 L444.96 46.05 L445.82 49.50 L445.82 53.82 L444.96 58.14 L443.23 60.74 L440.64 61.60 L438.91 61.60 L436.32 60.74 L435.45 59.01 M452.73 43.46 L452.73 61.60 M452.73 52.10 L454.46 50.37 L456.19 49.50 L458.78 49.50 L460.51 50.37 L462.24 52.10 L463.10 54.69 L463.10 56.42 L462.24 59.01 L460.51 60.74 L458.78 61.60 L456.19 61.60 L454.46 60.74 L452.73 59.01 M470.01 49.50 L469.15 50.37 L470.01 51.23 L470.88 50.37 L470.01 49.50 M470.01 59.87 L469.15 60.74 L470.01 61.60 L470.88 60.74 L470.01 59.87 M502.84 46.05 L501.12 44.32 L498.52 43.46 L495.07 43.46 L492.48 44.32 L490.75 46.05 L490.75 47.78 L491.61 49.50 L492.48 50.37 L494.20 51.23 L499.39 52.96 L501.12 53.82 L501.98 54.69 L502.84 56.42 L502.84 59.01 L501.12 60.74 L498.52 61.60 L495.07 61.60 L492.48 60.74 L490.75 59.01 M508.89 43.46 L508.89 61.60 M508.89 43.46 L514.94 43.46 L517.53 44.32 L519.26 46.05 L520.12 47.78 L520.99 50.37 L520.99 54.69 L520.12 57.28 L519.26 59.01 L517.53 60.74 L514.94 61.60 L508.89 61.60 M538.27 46.05 L536.54 44.32 L533.95 43.46 L530.49 43.46 L527.90 44.32 L526.17 46.05 L526.17 47.78 L527.04 49.50 L527.90 50.37 L529.63 51.23 L534.81 52.96 L536.54 53.82 L537.40 54.69 L538.27 56.42 L538.27 59.01 L536.54 60.74 L533.95 61.60 L530.49 61.60 L527.90 60.74 L526.17 59.01 M555.55 46.05 L553.82 44.32 L551.23 43.46 L547.77 43.46 L545.18 44.32 L543.45 46.05 L543.45 47.78 L544.32 49.50 L545.18 50.37 L546.91 51.23 L552.09 52.96 L553.82 53.82 L554.68 54.69 L555.55 56.42 L555.55 59.01 L553.82 60.74 L551.23 61.60 L547.77 61.60 L545.18 60.74 L543.45 59.01 M569.37 46.05 L569.37 61.60 M561.60 53.82 L577.15 53.82 M584.06 43.46 L584.06 61.60 M584.06 43.46 L595.29 43.46 M584.06 52.10 L590.97 52.10 M584.06 61.60 L595.29 61.60 M611.71 46.05 L609.98 44.32 L607.39 43.46 L603.93 43.46 L601.34 44.32 L599.61 46.05 L599.61 47.78 L600.48 49.50 L601.34 50.37 L603.07 51.23 L608.25 52.96 L609.98 53.82 L610.84 54.69 L611.71 56.42 L611.71 59.01 L609.98 60.74 L607.39 61.60 L603.93 61.60 L601.34 60.74 L599.61 59.01 M628.99 46.05 L627.26 44.32 L624.67 43.46 L621.21 43.46 L618.62 44.32 L616.89 46.05 L616.89 47.78 L617.76 49.50 L618.62 50.37 L620.35 51.23 L625.53 52.96 L627.26 53.82 L628.12 54.69 L628.99 56.42 L628.99 59.01 L627.26 60.74 L624.67 61.60 L621.21 61.60 L618.62 60.74 L616.89 59.01 M642.81 46.05 L642.81 61.60 M635.04 53.82 L650.59 53.82 M668.73 46.05 L667.00 44.32 L664.41 43.46 L660.96 43.46 L658.36 44.32 L656.64 46.05 L656.64 47.78 L657.50 49.50 L658.36 50.37 L660.09 51.23 L665.28 52.96 L667.00 53.82 L667.87 54.69 L668.73 56.42 L668.73 59.01 L667.00 60.74 L664.41 61.60 L660.96 61.60 L658.36 60.74 L656.64 59.01 M674.78 43.46 L674.78 61.60 M674.78 43.46 L686.88 61.60 M686.88 43.46 L686.88 61.60 M693.79 43.46 L693.79 61.60 M693.79 61.60 L704.16 61.60 M719.71 46.05 L717.98 44.32 L715.39 43.46 L711.93 43.46 L709.34 44.32 L707.61 46.05 L707.61 47.78 L708.48 49.50 L709.34 50.37 L711.07 51.23 L716.25 52.96 L717.98 53.82 L718.84 54.69 L719.71 56.42 L719.71 59.01 L717.98 60.74 L715.39 61.60 L711.93 61.60 L709.34 60.74 L707.61 59.01 M423.36 99.06 L423.36 117.20 M423.36 99.06 L435.45 117.20 M435.45 99.06 L435.45 117.20 M441.50 110.29 L451.87 110.29 L451.87 108.56 L451.00 106.83 L450.14 105.97 L448.41 105.10 L445.82 105.10 L444.09 105.97 L442.36 107.70 L441.50 110.29 L441.50 112.02 L442.36 114.61 L444.09 116.34 L445.82 117.20 L448.41 117.20 L450.14 116.34 L451.87 114.61 M467.42 105.10 L467.42 118.93 L466.56 121.52 L465.69 122.38 L463.96 123.25 L461.37 123.25 L459.64 122.38 M467.42 107.70 L465.69 105.97 L463.96 105.10 L461.37 105.10 L459.64 105.97 L457.92 107.70 L457.05 110.29 L457.05 112.02 L457.92 114.61 L459.64 116.34 L461.37 117.20 L463.96 117.20 L465.69 116.34 L467.42 114.61 M474.33 99.06 L474.33 117.20 M480.38 110.29 L490.75 110.29 L490.75 108.56 L489.88 106.83 L489.02 105.97 L487.29 105.10 L484.70 105.10 L482.97 105.97 L481.24 107.70 L480.38 110.29 L480.38 112.02 L481.24 114.61 L482.97 116.34 L484.70 117.20 L487.29 117.20 L489.02 116.34 L490.75 114.61 M506.30 107.70 L504.57 105.97 L502.84 105.10 L500.25 105.10 L498.52 105.97 L496.80 107.70 L495.93 110.29 L495.93 112.02 L496.80 114.61 L498.52 116.34 L500.25 117.20 L502.84 117.20 L504.57 116.34 L506.30 114.61 M513.21 99.06 L513.21 113.74 L514.08 116.34 L515.80 117.20 L517.53 117.20 M510.62 105.10 L516.67 105.10 M521.85 99.06 L522.72 99.92 L523.58 99.06 L522.72 98.19 L521.85 99.06 M522.72 105.10 L522.72 117.20 M529.63 105.10 L529.63 117.20 M529.63 108.56 L532.22 105.97 L533.95 105.10 L536.54 105.10 L538.27 105.97 L539.13 108.56 L539.13 117.20 M555.55 105.10 L555.55 118.93 L554.68 121.52 L553.82 122.38 L552.09 123.25 L549.50 123.25 L547.77 122.38 M555.55 107.70 L553.82 105.97 L552.09 105.10 L549.50 105.10 L547.77 105.97 L546.04 107.70 L545.18 110.29 L545.18 112.02 L546.04 114.61 L547.77 116.34 L549.50 117.20 L552.09 117.20 L553.82 116.34 L555.55 114.61 M588.38 103.38 L587.52 101.65 L585.79 99.92 L584.06 99.06 L580.60 99.06 L578.88 99.92 L577.15 101.65 L576.28 103.38 L575.42 105.97 L575.42 110.29 L576.28 112.88 L577.15 114.61 L578.88 116.34 L580.60 117.20 L584.06 117.20 L585.79 116.34 L587.52 114.61 L588.38 112.88 M594.43 99.06 L594.43 117.20 M594.43 99.06 L601.34 117.20 M608.25 99.06 L601.34 117.20 M608.25 99.06 L608.25 117.20 M615.16 99.06 L615.16 117.20 M615.16 99.06 L622.94 99.06 L625.53 99.92 L626.40 100.78 L627.26 102.51 L627.26 104.24 L626.40 105.97 L625.53 106.83 L622.94 107.70 M615.16 107.70 L622.94 107.70 L625.53 108.56 L626.40 109.42 L627.26 111.15 L627.26 113.74 L626.40 115.47 L625.53 116.34 L622.94 117.20 L615.16 117.20 M656.64 99.06 L656.64 117.20 M656.64 107.70 L654.91 105.97 L653.18 105.10 L650.59 105.10 L648.86 105.97 L647.13 107.70 L646.27 110.29 L646.27 112.02 L647.13 114.61 L648.86 116.34 L650.59 117.20 L653.18 117.20 L654.91 116.34 L656.64 114.61 M662.68 99.06 L663.55 99.92 L664.41 99.06 L663.55 98.19 L662.68 99.06 M663.55 105.10 L663.55 117.20 M670.46 105.10 L670.46 123.25 M670.46 107.70 L672.19 105.97 L673.92 105.10 L676.51 105.10 L678.24 105.97 L679.96 107.70 L680.83 110.29 L680.83 112.02 L679.96 114.61 L678.24 116.34 L676.51 117.20 L673.92 117.20 L672.19 116.34 L670.46 114.61 M690.33 105.10 L688.60 105.97 L686.88 107.70 L686.01 110.29 L686.01 112.02 L686.88 114.61 L688.60 116.34 L690.33 117.20 L692.92 117.20 L694.65 116.34 L696.38 114.61 L697.24 112.02 L697.24 110.29 L696.38 107.70 L694.65 105.97 L692.92 105.10 L690.33 105.10 M703.29 99.06 L703.29 117.20 M709.34 110.29 L719.71 110.29 L719.71 108.56 L718.84 106.83 L717.98 105.97 L716.25 105.10 L713.66 105.10 L711.93 105.97 L710.20 107.70 L709.34 110.29 L709.34 112.02 L710.20 114.61 L711.93 116.34 L713.66 117.20 L716.25 117.20 L717.98 116.34 L719.71 114.61" stroke="#000" stroke-width="1.85" fill="none" stroke-linejoin="round"/>
<path d="M455.37 671.80 L459.93 671.80 L456.51 664.80 L455.37 660.80 L455.37 656.80 L456.51 653.80 L458.79 651.80 L462.21 650.80 L464.49 650.80 L467.91 651.80 L470.19 653.80 L471.33 656.80 L471.33 660.80 L470.19 664.80 L466.77 671.80 L471.33 671.80" stroke="#000" stroke-width="2.4" fill="none" stroke-linejoin="round"/>
<path d="M476.85 674.18 L476.85 687.20 M476.85 674.18 L481.65 687.20 M486.45 674.18 L481.65 687.20 M486.45 674.18 L486.45 687.20" stroke="#000" stroke-width="2.0" fill="none" stroke-linejoin="round"/>
<g transform="translate(29.7 301.4) rotate(-90)"><path d="M-7.68 -13.79 L-3.84 0.00 M0.00 -13.79 L-3.84 0.00 M0.00 -13.79 L3.84 0.00 M7.68 -13.79 L3.84 0.00" stroke="#000" stroke-width="2.1" fill="none" stroke-linejoin="miter"/></g>
</svg></body></html>
